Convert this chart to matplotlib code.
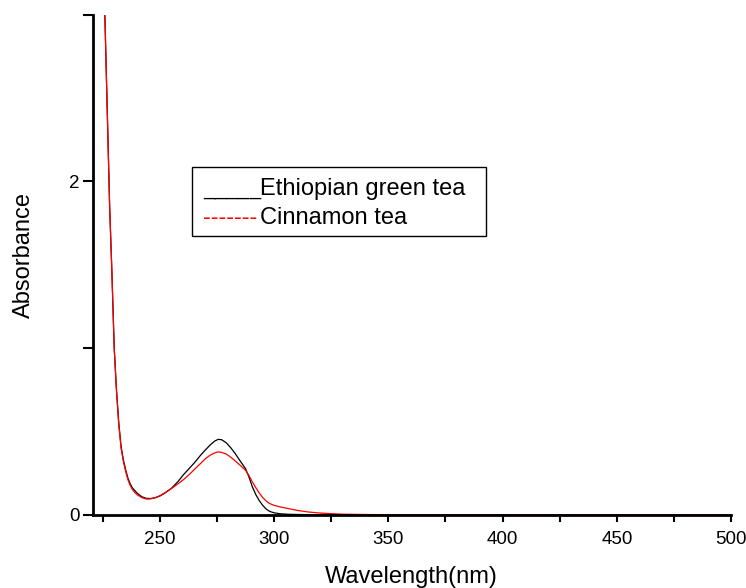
import numpy as np
import matplotlib.pyplot as plt
from matplotlib.patches import Rectangle

plt.rcParams['font.family'] = ['Liberation Sans', 'DejaVu Sans']

# wavelength (nm) and absorbance
wl_green = [221, 224, 225, 226, 227, 228, 229, 230, 231, 232, 233, 234, 235, 236,
            237, 238, 239, 240, 242, 244, 246, 248, 250, 252, 255, 258, 260, 263,
            265, 268, 270, 272, 274, 275.5, 277, 279, 281, 283, 285, 287.5, 289, 290.5,
            292, 293.5, 295, 296.5, 298, 300, 303, 307, 315, 350, 400, 450, 500]
abs_green = [5.0, 3.8, 3.35, 2.95, 2.4, 1.85, 1.45, 1.0, 0.75, 0.55, 0.41, 0.33, 0.27, 0.22,
             0.185, 0.16, 0.145, 0.13, 0.108, 0.098, 0.097, 0.102, 0.112, 0.128, 0.158, 0.2, 0.235, 0.28,
             0.31, 0.36, 0.39, 0.418, 0.442, 0.452, 0.45, 0.432, 0.402, 0.366, 0.325, 0.276, 0.225, 0.166,
             0.12, 0.084, 0.056, 0.034, 0.02, 0.011, 0.005, 0.002, 0.0, 0.0, 0.0, 0.0, 0.0]

wl_cinn = [221, 224, 225, 226, 227, 228, 229, 230, 231, 232, 233, 234, 235, 236,
           237, 238, 239, 240, 242, 244, 246, 248, 250, 252, 255, 258, 260.3, 263,
           265.4, 268, 270, 272, 274, 275.5, 277, 279, 281, 283, 285.5, 287.5, 289, 290.5,
           292, 293.5, 295, 296.5, 298, 300, 302.5, 305, 310, 315, 320, 325, 330, 340,
           350, 400, 450, 500]
abs_cinn = [5.0, 3.8, 3.35, 2.95, 2.4, 1.85, 1.45, 1.0, 0.74, 0.54, 0.4, 0.32, 0.26, 0.21,
            0.175, 0.15, 0.133, 0.12, 0.103, 0.094, 0.095, 0.102, 0.114, 0.13, 0.156, 0.186, 0.21, 0.243,
            0.276, 0.31, 0.337, 0.357, 0.371, 0.377, 0.374, 0.364, 0.345, 0.322, 0.292, 0.266, 0.235, 0.196,
            0.162, 0.13, 0.103, 0.082, 0.067, 0.056, 0.047, 0.04, 0.026, 0.016, 0.01, 0.006, 0.003, 0.001,
            0.0, 0.0, 0.0, 0.0]

fig = plt.figure(figsize=(7.46, 5.88), dpi=100)
ax = fig.add_axes([0.124, 0.1247, 0.856, 0.85])

ax.plot(wl_green, abs_green, color='black', lw=0.9)
ax.plot(wl_cinn, abs_cinn, color='red', lw=0.9)

ax.set_xlim(220.5, 500)
ax.set_ylim(0, 3.0)
ax.set_xticks([250, 300, 350, 400, 450, 500])
ax.set_xticks([225, 275, 325, 375, 425, 475], minor=True)
ax.set_yticks([0, 2])
ax.set_yticks([1, 3], minor=True)
ax.tick_params(which='both', direction='out', width=1.5, labelsize=13.5)
ax.tick_params(axis='x', which='both', length=5, pad=7)
ax.tick_params(axis='y', which='both', length=7.5, pad=2)
for s in ['top', 'right']:
    ax.spines[s].set_visible(False)
for s in ['left', 'bottom']:
    ax.spines[s].set_linewidth(2)

fig.text(0.552, 0.019, 'Wavelength(nm)', fontsize=17, ha='center', va='center')
fig.text(0.032, 0.566, 'Absorbance', fontsize=17, rotation=90, ha='center', va='center')

# legend box drawn by hand, as in the original
fig.patches.append(Rectangle((0.257, 0.5986), 0.394, 0.118, transform=fig.transFigure,
                             fill=False, edgecolor='black', lw=1))
fig.text(0.272, 0.6684, '_____', fontsize=15, color='black', va='baseline')
fig.text(0.3485, 0.6684, 'Ethiopian green tea', fontsize=17, va='baseline')
fig.text(0.272, 0.619, '-------', fontsize=17, color='red', va='baseline')
fig.text(0.3485, 0.619, 'Cinnamon tea', fontsize=17, va='baseline')

fig.savefig('out.png', dpi=100)
